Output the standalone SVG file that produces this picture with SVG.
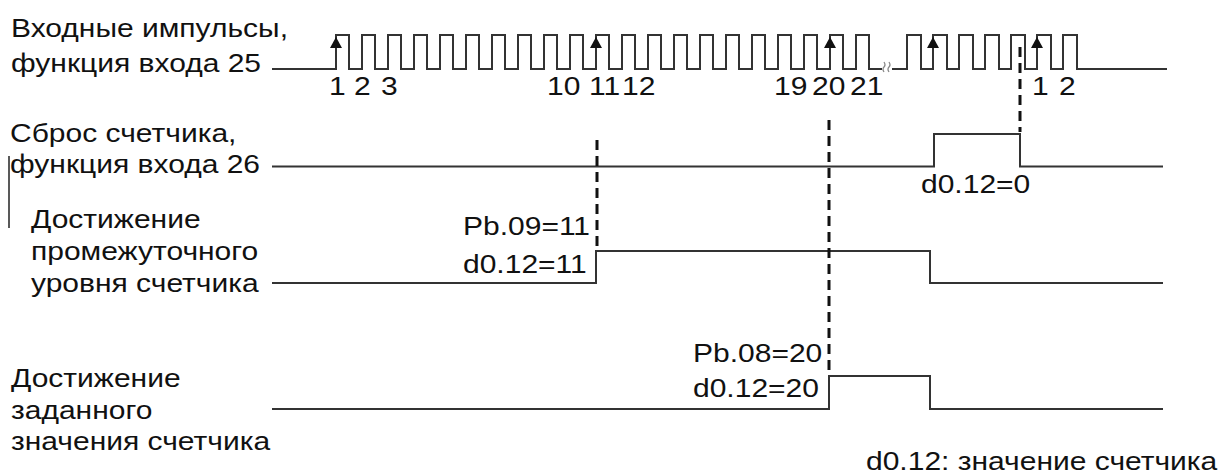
<svg xmlns="http://www.w3.org/2000/svg" width="1224" height="475" viewBox="0 0 1224 475">
<style>
.t{font-family:"Liberation Sans",Arial,sans-serif;font-size:25px;fill:#111}
.sig{fill:none;stroke:#333;stroke-width:2;stroke-linejoin:miter}
.dash{fill:none;stroke:#111;stroke-width:3;stroke-dasharray:10 6}
.arr{fill:#111}
</style>
<rect width="1224" height="475" fill="#fff"/>
<g id="labels">
<text class="t" transform="translate(11,37) scale(1.2,1)">Входные импульсы,</text>
<text class="t" transform="translate(11,72) scale(1.2,1)">функция входа 25</text>
<text class="t" transform="translate(10,142) scale(1.2,1)">Сброс счетчика,</text>
<text class="t" transform="translate(10,173) scale(1.2,1)">функция входа 26</text>
<text class="t" transform="translate(31,228) scale(1.2,1)">Достижение</text>
<text class="t" transform="translate(31,260) scale(1.2,1)">промежуточного</text>
<text class="t" transform="translate(31,292) scale(1.2,1)">уровня счетчика</text>
<text class="t" transform="translate(11,387) scale(1.2,1)">Достижение</text>
<text class="t" transform="translate(11,419) scale(1.2,1)">заданного</text>
<text class="t" transform="translate(11,450) scale(1.2,1)">значения счетчика</text>
<text class="t" transform="translate(866,470) scale(1.2,1)">d0.12: значение счетчика</text>
</g>
<g id="numbers">
<text class="t" transform="translate(329,95) scale(1.2,1)">1</text>
<text class="t" transform="translate(354,95) scale(1.2,1)">2</text>
<text class="t" transform="translate(381,95) scale(1.2,1)">3</text>
<text class="t" transform="translate(547,95) scale(1.2,1)">10</text>
<text class="t" transform="translate(589,95) scale(1.2,1)">11</text>
<text class="t" transform="translate(622,95) scale(1.2,1)">12</text>
<text class="t" transform="translate(774,95) scale(1.2,1)">19</text>
<text class="t" transform="translate(812,95) scale(1.2,1)">20</text>
<text class="t" transform="translate(850,95) scale(1.2,1)">21</text>
<text class="t" transform="translate(1032,95) scale(1.2,1)">1</text>
<text class="t" transform="translate(1059,95) scale(1.2,1)">2</text>
</g>
<g id="values">
<text class="t" transform="translate(921,193) scale(1.2,1)">d0.12=0</text>
<text class="t" transform="translate(463,235) scale(1.2,1)">Pb.09=11</text>
<text class="t" transform="translate(463,273) scale(1.2,1)">d0.12=11</text>
<text class="t" transform="translate(693,362) scale(1.2,1)">Pb.08=20</text>
<text class="t" transform="translate(693,397) scale(1.2,1)">d0.12=20</text>
</g>
<g id="signal-pulses">
<path class="sig" d="M272,69 H336 V35 H349 V69 H362 V35 H375 V69 H388 V35 H401 V69 H414 V35 H427 V69 H440 V35 H453 V69 H466 V35 H479 V69 H492 V35 H505 V69 H518 V35 H531 V69 H544 V35 H557 V69 H570 V35 H583 V69 H596 V35 H609 V69 H622 V35 H635 V69 H648 V35 H661 V69 H674 V35 H687 V69 H700 V35 H713 V69 H726 V35 H739 V69 H752 V35 H765 V69 H778 V35 H791 V69 H804 V35 H817 V69 H830 V35 H843 V69 H856 V35 H869 V69 H882"/>
<path fill="none" stroke="#888" stroke-width="1.3" d="M884,72 q-2,-3 0,-5 q2,-2 0,-5 M889,72 q-2,-3 0,-5 q2,-2 0,-5"/>
<path class="sig" d="M892,69 H907 V35 H921 V69 H933 V35 H947 V69 H959 V35 H973 V69 H985 V35 H999 V69 H1011 V35 H1025 V69 H1037 V35 H1051 V69 H1063 V35 H1077 V69 H1167"/>
</g>
<g id="signal-reset">
<path class="sig" d="M272,166.5 H934 V134 H1020 V166.5 H1163"/>
</g>
<g id="signal-intermediate">
<path class="sig" d="M272,283 H596 V251 H930 V283 H1163"/>
</g>
<g id="signal-setpoint">
<path class="sig" d="M272,409 H829 V376 H930 V409 H1163"/>
</g>
<g id="connectors">
<line class="dash" x1="597" y1="140" x2="597" y2="251"/>
<line class="dash" x1="829" y1="120" x2="829" y2="376"/>
<line class="dash" x1="1020" y1="47" x2="1020" y2="132"/>
<path class="arr" d="M336,37 L330,48 L342,48 Z"/>
<path class="arr" d="M596,37 L590,48 L602,48 Z"/>
<path class="arr" d="M830,37 L824,48 L836,48 Z"/>
<path class="arr" d="M933,37 L927,48 L939,48 Z"/>
<path class="arr" d="M1037,37 L1031,48 L1043,48 Z"/>
</g>
<line x1="9" y1="156" x2="9" y2="228" stroke="#222" stroke-width="1.5"/>
</svg>
